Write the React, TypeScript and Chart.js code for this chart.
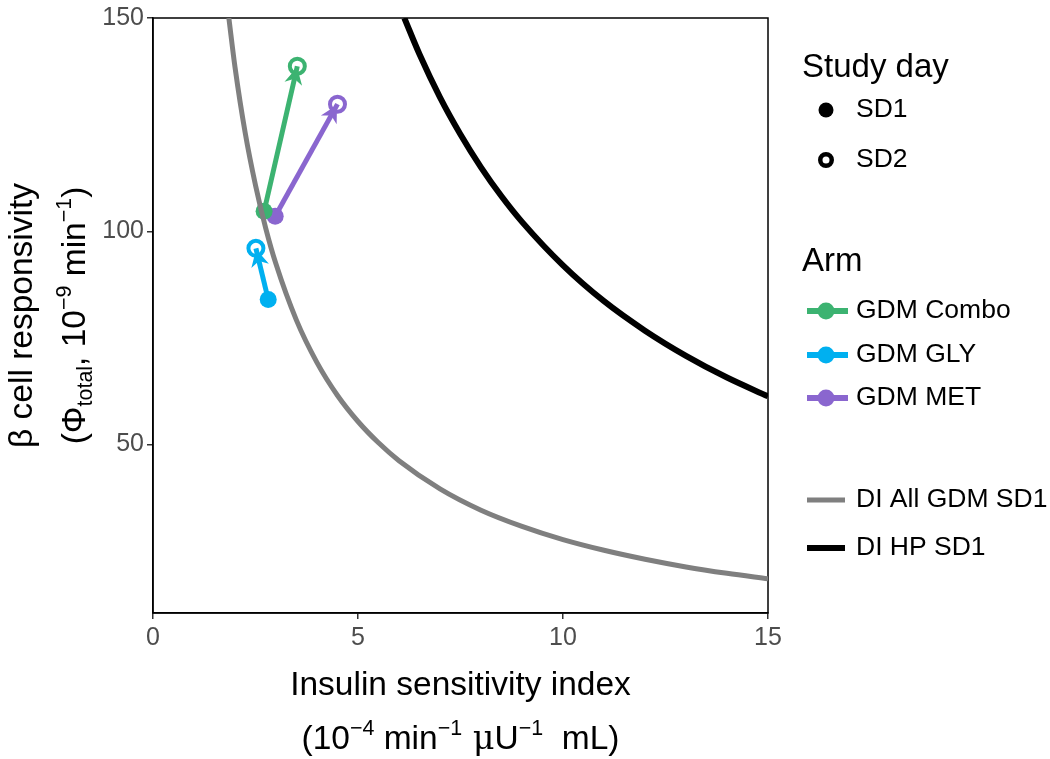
import { useEffect, useRef } from 'react';
import { Chart, registerables } from 'chart.js';
Chart.register(...registerables);

const FONT = '"Liberation Sans", Arial, Helvetica, sans-serif';

// ---- data ----
const armNames = ['GDM Combo', 'GDM GLY', 'GDM MET'];
const armColors = ['#3CB371', '#00B0F0', '#8A66CF'];
const sd1SI = [2.71, 2.81, 2.98];
const sd1Phi = [104.7, 84.0, 103.5];
const sd2SI = [3.52, 2.51, 4.5];
const sd2Phi = [138.7, 96.0, 129.8];

const diAllSI = [1.85, 2.0, 2.25, 2.5, 2.75, 3.0, 3.5, 4.0, 4.5, 5.0, 5.5, 6.0, 7.0, 8.0, 9.0, 10.0, 11.0, 12.0, 13.0, 14.0, 15.0];
const diAllPhi = [150.0, 138.5, 123.0, 110.8, 100.7, 92.3, 79.1, 69.2, 61.5, 55.4, 50.4, 46.2, 39.6, 34.6, 30.8, 27.7, 25.2, 23.1, 21.3, 19.8, 18.5];
const diHpSI = [6.13, 6.5, 7.0, 7.5, 8.0, 8.5, 9.0, 10.0, 11.0, 12.0, 13.0, 14.0, 15.0];
const diHpPhi = [150.0, 141.5, 131.4, 122.7, 115.0, 108.2, 102.2, 92.0, 83.6, 76.7, 70.8, 65.7, 61.3];

const xTicks = [0, 5, 10, 15];
const yTicks = [50, 100, 150];
const studyDays = ['SD1', 'SD2'];
const diNames = ['DI All GDM SD1', 'DI HP SD1'];
const diColors = ['#7F7F7F', '#000000'];

type Seg = { t: string; sup?: boolean; sub?: boolean; font?: string };

function drawRich(ctx: CanvasRenderingContext2D, segs: Seg[], cx: number, cy: number, size: number, color: string) {
  const small = size * 0.64;
  let total = 0;
  const widths: number[] = [];
  for (const s of segs) {
    const fs = s.sup || s.sub ? small : size;
    ctx.font = `${fs}px ${s.font || FONT}`;
    const w = ctx.measureText(s.t).width;
    widths.push(w);
    total += w;
  }
  let x = cx - total / 2;
  const base = cy + size * 0.36;
  ctx.fillStyle = color;
  ctx.textAlign = 'left';
  ctx.textBaseline = 'alphabetic';
  segs.forEach((s, i) => {
    const fs = s.sup || s.sub ? small : size;
    ctx.font = `${fs}px ${s.font || FONT}`;
    let y = base;
    if (s.sup) y = base - size * 0.42;
    if (s.sub) y = base + size * 0.2;
    ctx.fillText(s.t, x, y);
    x += widths[i];
  });
}

const decorPlugin = {
  id: 'decor',
  beforeDatasetsDraw(chart: any) {
    const { ctx, chartArea } = chart;
    ctx.save();
    ctx.strokeStyle = '#000';
    ctx.lineWidth = 1.5;
    ctx.strokeRect(chartArea.left, chartArea.top, chartArea.right - chartArea.left, chartArea.bottom - chartArea.top);
    ctx.restore();
  },
  afterDatasetsDraw(chart: any) {
    const { ctx, chartArea } = chart;
    ctx.save();
    // arrowheads
    for (let i = 0; i < armNames.length; i++) {
      const meta = chart.getDatasetMeta(2 + i);
      const p1 = meta.data[0];
      const p2 = meta.data[1];
      const dx = p2.x - p1.x;
      const dy = p2.y - p1.y;
      const len = Math.hypot(dx, dy);
      const ux = dx / len;
      const uy = dy / len;
      const px = -uy;
      const py = ux;
      const tipX = p2.x - ux * 1;
      const tipY = p2.y - uy * 1;
      const bx = tipX - ux * 17;
      const by = tipY - uy * 17;
      const nx = tipX - ux * 12;
      const ny = tipY - uy * 12;
      ctx.fillStyle = armColors[i];
      ctx.beginPath();
      ctx.moveTo(tipX, tipY);
      ctx.lineTo(bx + px * 9, by + py * 9);
      ctx.lineTo(nx, ny);
      ctx.lineTo(bx - px * 9, by - py * 9);
      ctx.closePath();
      ctx.fill();
    }
    ctx.restore();

    // axis titles
    const TS = 33.5;
    ctx.save();
    const midX = (chartArea.left + chartArea.right) / 2;
    drawRich(ctx, [{ t: 'Insulin sensitivity index' }], midX, 683, TS, '#000');
    drawRich(
      ctx,
      [
        { t: '(10' }, { t: '−4', sup: true }, { t: ' min' }, { t: '−1', sup: true },
        { t: ' μ', font: '"DejaVu Serif", serif' }, { t: 'U' }, { t: '−1', sup: true }, { t: '  mL)' },
      ],
      midX, 737, TS, '#000'
    );
    const midY = (chartArea.top + chartArea.bottom) / 2;
    ctx.translate(20, midY);
    ctx.rotate(-Math.PI / 2);
    drawRich(ctx, [{ t: 'β cell responsivity' }], 0, 0, TS, '#000');
    ctx.restore();
    ctx.save();
    ctx.translate(73, midY);
    ctx.rotate(-Math.PI / 2);
    drawRich(
      ctx,
      [{ t: '(Φ' }, { t: 'total', sub: true }, { t: ', 10' }, { t: '−9', sup: true }, { t: ' min' }, { t: '−1', sup: true }, { t: ')' }],
      0, 0, TS, '#000'
    );
    ctx.restore();

    // legend
    ctx.save();
    ctx.fillStyle = '#000';
    ctx.textAlign = 'left';
    ctx.textBaseline = 'middle';
    ctx.font = `33px ${FONT}`;
    ctx.fillText('Study day', 802, 68);
    ctx.fillText('Arm', 802, 262);
    ctx.font = `26.5px ${FONT}`;
    const sdY = [110, 160];
    studyDays.forEach((s, i) => {
      ctx.fillStyle = '#000';
      ctx.fillText(s, 856, sdY[i]);
      ctx.beginPath();
      if (i === 0) {
        ctx.arc(826, sdY[i], 7.5, 0, Math.PI * 2);
        ctx.fill();
      } else {
        ctx.lineWidth = 4.5;
        ctx.strokeStyle = '#000';
        ctx.arc(826, sdY[i], 5.75, 0, Math.PI * 2);
        ctx.stroke();
      }
    });
    const armY = [311, 355, 398];
    armNames.forEach((n, i) => {
      ctx.strokeStyle = armColors[i];
      ctx.fillStyle = armColors[i];
      ctx.lineWidth = 6;
      ctx.beginPath();
      ctx.moveTo(807, armY[i]);
      ctx.lineTo(848, armY[i]);
      ctx.stroke();
      ctx.beginPath();
      ctx.arc(826, armY[i], 8.5, 0, Math.PI * 2);
      ctx.fill();
      ctx.fillStyle = '#000';
      ctx.fillText(n, 856, armY[i]);
    });
    const diY = [500, 548];
    diNames.forEach((n, i) => {
      ctx.strokeStyle = diColors[i];
      ctx.lineWidth = i === 0 ? 5 : 6;
      ctx.beginPath();
      ctx.moveTo(807, diY[i]);
      ctx.lineTo(845, diY[i]);
      ctx.stroke();
      ctx.fillStyle = '#000';
      ctx.fillText(n, 856, diY[i]);
    });
    ctx.restore();
  },
};

export default function App() {
  const ref = useRef<HTMLCanvasElement>(null);
  useEffect(() => {
    document.body.style.margin = '0';
    const canvas = ref.current!;
    const armDatasets = armNames.map((n, i) => ({
      label: n,
      data: [
        { x: sd1SI[i], y: sd1Phi[i] },
        { x: sd2SI[i], y: sd2Phi[i] },
      ],
      borderColor: armColors[i],
      borderWidth: 5,
      pointStyle: 'circle',
      pointRadius: [8.5, 7.5],
      pointBorderWidth: [0, 4],
      pointBackgroundColor: [armColors[i], 'rgba(0,0,0,0)'],
      pointBorderColor: [armColors[i], armColors[i]],
      showLine: true,
      fill: false,
    }));
    const chart = new Chart(canvas, {
      type: 'scatter',
      data: {
        datasets: [
          {
            label: diNames[0],
            data: diAllSI.map((x, i) => ({ x, y: diAllPhi[i] })),
            borderColor: diColors[0],
            borderWidth: 5,
            pointRadius: 0,
            showLine: true,
            cubicInterpolationMode: 'monotone',
          },
          {
            label: diNames[1],
            data: diHpSI.map((x, i) => ({ x, y: diHpPhi[i] })),
            borderColor: diColors[1],
            borderWidth: 6,
            pointRadius: 0,
            showLine: true,
            cubicInterpolationMode: 'monotone',
          },
          ...armDatasets,
        ] as any,
      },
      options: {
        responsive: false,
        animation: false,
        events: [],
        layout: { padding: { left: 0, top: 13, right: 282, bottom: 0 } },
        plugins: { legend: { display: false }, tooltip: { enabled: false } },
        scales: {
          x: {
            type: 'linear',
            min: 0,
            max: 15,
            afterBuildTicks: (s: any) => {
              s.ticks = xTicks.map((v) => ({ value: v }));
            },
            afterFit: (s: any) => {
              s.height = 146;
            },
            ticks: { font: { size: 25, family: FONT }, color: '#4D4D4D', padding: 4 },
            grid: { drawOnChartArea: false, drawTicks: true, tickLength: 6, color: '#333', lineWidth: 1.5 },
            border: { display: true, color: '#000', width: 1.5 },
          },
          y: {
            type: 'linear',
            min: 10.5,
            max: 150,
            afterBuildTicks: (s: any) => {
              s.ticks = yTicks.map((v) => ({ value: v }));
            },
            afterFit: (s: any) => {
              s.width = 153;
            },
            ticks: { font: { size: 25, family: FONT }, color: '#4D4D4D', padding: 3 },
            grid: { drawOnChartArea: false, drawTicks: true, tickLength: 6, color: '#333', lineWidth: 1.5 },
            border: { display: true, color: '#000', width: 1.5 },
          },
        },
      } as any,
      plugins: [decorPlugin],
    });
    return () => chart.destroy();
  }, []);
  return <canvas ref={ref} width={1050} height={759} style={{ display: 'block' }} />;
}
